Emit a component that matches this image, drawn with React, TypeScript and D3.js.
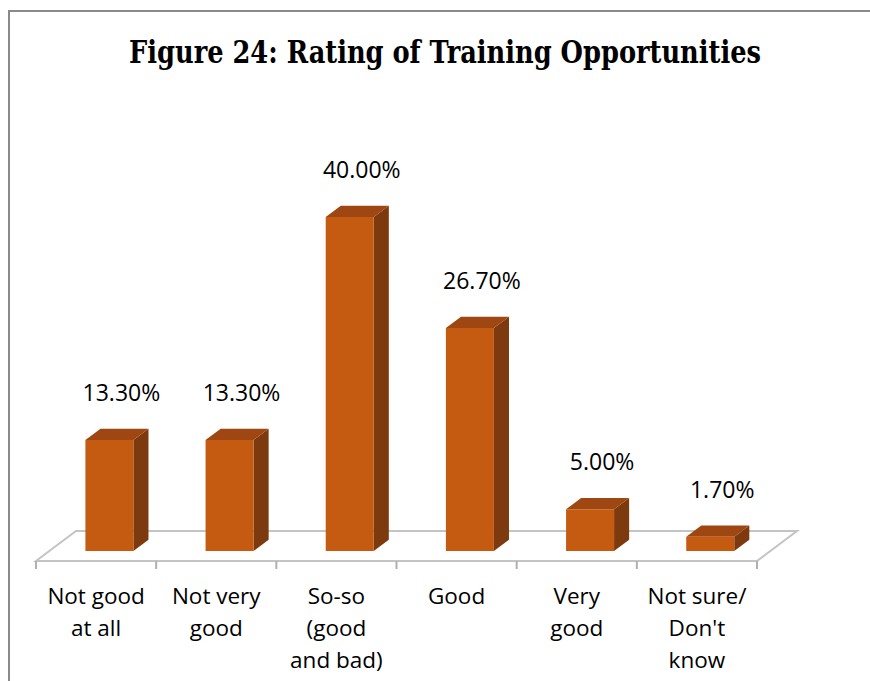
import React from "react";
import * as d3 from "d3";

const TITLE = "Figure 24: Rating of Training Opportunities";
const categories = ["Not good|at all", "Not very|good", "So-so|(good|and bad)", "Good", "Very|good", "Not sure/|Don't|know"];
const values = [13.3, 13.3, 40.0, 26.7, 5.0, 1.7];
const valueLabels = ["13.30%", "13.30%", "40.00%", "26.70%", "5.00%", "1.70%"];

const W = 870;
const H = 681;

// floor geometry
const floorLeft = 36;
const floorRight = 757;
const floorFrontY = 561;
const depthDX = 40;
const depthDY = -30;
const barFrontF = 0.333;
const barBackF = 0.71;
const barWidth = 48;

const FRONT = "#C55A11";
const TOP = "#9E4712";
const SIDE = "#7D3A0E";

export default function App() {
  const x = d3.scaleBand<number>().domain(d3.range(categories.length)).range([floorLeft, floorRight]).padding(0);
  const baseY = floorFrontY + depthDY * barFrontF;
  const y = d3.scaleLinear().domain([0, 40]).range([baseY, 217]);
  const bdx = depthDX * (barBackF - barFrontF);
  const bdy = depthDY * (barBackF - barFrontF);
  const fOffX = depthDX * barFrontF;

  const font = "'Open Sans', sans-serif";
  const floorPts = [
    [floorLeft, floorFrontY],
    [floorRight, floorFrontY],
    [floorRight + depthDX, floorFrontY + depthDY],
    [floorLeft + depthDX, floorFrontY + depthDY],
  ];
  const ticks = d3.range(categories.length + 1).map((i) => (i < categories.length ? x(i)! : floorRight));

  return (
    <div style={{ position: "absolute", left: 0, top: 0 }}>
      <svg width={W} height={H} style={{ display: "block" }}>
        <rect x={0} y={0} width={W} height={H} fill="#fff" />
        <rect x={9} y={11} width={W + 20} height={H + 20} fill="none" stroke="#8a8a8a" strokeWidth={2} />
        <text
          x={445}
          y={63}
          textAnchor="middle"
          fontFamily="'DejaVu Serif Condensed', 'DejaVu Serif', serif"
          fontWeight="bold"
          fontSize={31}
          textLength={632}
          lengthAdjust="spacingAndGlyphs"
          fill="#000"
        >
          {TITLE}
        </text>
        <polygon points={floorPts.map((p) => p.join(",")).join(" ")} fill="none" stroke="#c4c4c4" strokeWidth={2} />
        {ticks.map((t, i) => (
          <line key={i} x1={t} x2={t} y1={floorFrontY} y2={floorFrontY + 8} stroke="#b0b0b0" strokeWidth={2} />
        ))}
        {values.map((v, i) => {
          const cx = x(i)! + x.bandwidth() / 2 + fOffX;
          const x0 = cx - barWidth / 2;
          const x1 = cx + barWidth / 2;
          const yb = y(0);
          const yt = y(v);
          const front = `${x0},${yt} ${x1},${yt} ${x1},${yb} ${x0},${yb}`;
          const top = `${x0},${yt} ${x0 + bdx},${yt + bdy} ${x1 + bdx},${yt + bdy} ${x1},${yt}`;
          const side = `${x1},${yt} ${x1 + bdx},${yt + bdy} ${x1 + bdx},${yb + bdy} ${x1},${yb}`;
          return (
            <g key={i}>
              <polygon points={side} fill={SIDE} />
              <polygon points={top} fill={TOP} />
              <polygon points={front} fill={FRONT} />
              <text x={cx + 12} y={yt - 39} textAnchor="middle" fontFamily={font} fontSize={23} fill="#000">
                {valueLabels[i]}
              </text>
            </g>
          );
        })}
        {categories.map((c, i) => {
          const cx = x(i)! + x.bandwidth() / 2;
          return (
            <text key={i} textAnchor="middle" fontFamily={font} fontSize={22.5} fill="#000">
              {c.split("|").map((line, j) => (
                <tspan key={j} x={cx} y={604 + j * 32}>
                  {line}
                </tspan>
              ))}
            </text>
          );
        })}
      </svg>
    </div>
  );
}
